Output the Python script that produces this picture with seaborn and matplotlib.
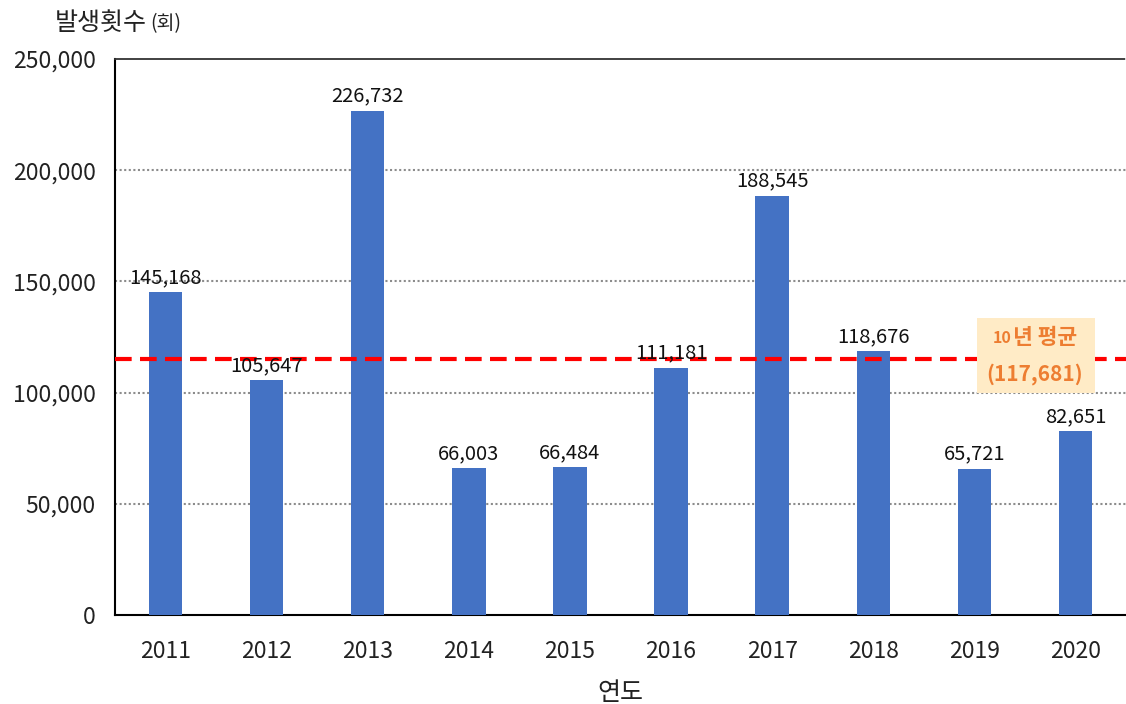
import matplotlib
matplotlib.use("Agg")
import matplotlib.pyplot as plt
import seaborn as sns
import pandas as pd
from matplotlib.patches import Rectangle

years = ["2011", "2012", "2013", "2014", "2015", "2016", "2017", "2018", "2019", "2020"]
counts = [145168, 105647, 226732, 66003, 66484, 111181, 188545, 118676, 65721, 82651]
avg_line = 115000
avg_label = "(117,681)"
yticks = [0, 50000, 100000, 150000, 200000, 250000]

sns.set_theme(style="white")
plt.rcParams['font.family'] = ['Noto Sans CJK KR', 'DejaVu Sans']

df = pd.DataFrame({"year": years, "count": counts})

fig = plt.figure(figsize=(11.26, 7.04), dpi=100)
ax = fig.add_axes([0.1021, 0.1264, 0.8979, 0.7898])

sns.barplot(data=df, x="year", y="count", color="#4472C4", width=0.33,
            saturation=1, linewidth=0, ax=ax, zorder=3)

ax.set_ylim(0, 250000)
ax.set_xlim(-0.5, 9.5)
ax.set_yticks(yticks)
ax.set_yticklabels([f"{v:,}" for v in yticks], fontsize=16.5, color="#222222")
ax.tick_params(axis="x", labelsize=16.5, colors="#222222", length=0, pad=18)
ax.tick_params(axis="y", length=0, pad=14)

for v in yticks[1:-1]:
    ax.axhline(v, color="#8c8c8c", linestyle=(0, (1, 1.2)), linewidth=1.5, zorder=1)

for s in ["left", "bottom"]:
    ax.spines[s].set_color("black")
    ax.spines[s].set_linewidth(1.5)
ax.spines["right"].set_visible(False)
ax.spines["top"].set_color("#333333")
ax.spines["top"].set_linewidth(1.3)
ax.spines["top"].set_linestyle((0, (1, 1)))

for i, v in enumerate(counts):
    ax.annotate(f"{v:,}", (i, v), xytext=(0, 3), textcoords="offset points",
                ha="center", va="bottom", fontsize=14.5, color="#111111", zorder=6)

ax.axhline(avg_line, color="#FF0000", linestyle=(0, (4, 2)), linewidth=3, zorder=5)

ax.add_patch(Rectangle((8.026, 99800), 1.167, 33700, facecolor="#FFEBC6",
                       edgecolor="none", zorder=6))
ax.text(8.37, 124500, "10", color="#ED7D31", fontsize=11.5, fontweight="bold",
        ha="right", va="center", zorder=7)
ax.text(8.38, 125000, "년 평균", color="#ED7D31", fontsize=15.5, fontweight="bold",
        ha="left", va="center", zorder=7)
ax.text(8.60, 108500, avg_label, color="#ED7D31", fontsize=15, fontweight="bold",
        ha="center", va="center", zorder=7)

ax.set_xlabel("연도", fontsize=18, color="#222222", labelpad=12)
ax.set_ylabel("")
fig.text(0.049, 0.968, "발생횟수", fontsize=18, color="#222222", ha="left", va="center")
fig.text(0.133, 0.966, "(회)", fontsize=14, color="#222222", ha="left", va="center")

fig.savefig("out.png", dpi=100)
